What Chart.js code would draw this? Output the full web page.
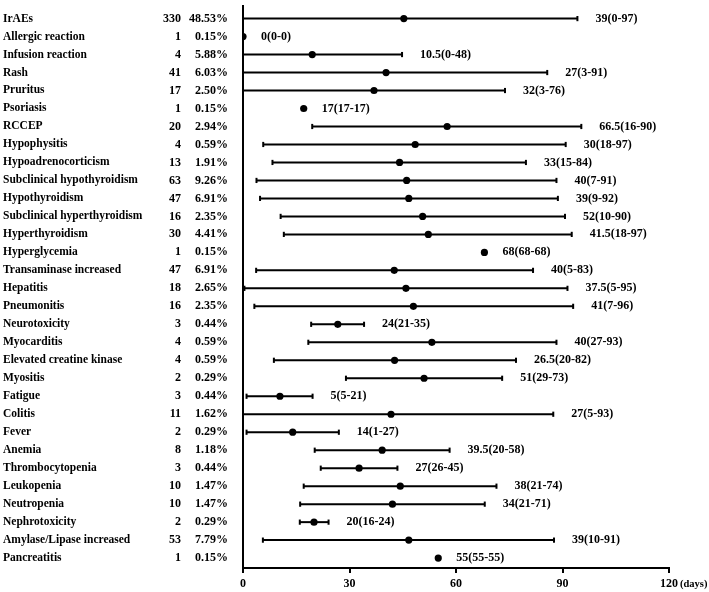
<!DOCTYPE html>
<html>
<head>
<meta charset="utf-8">
<script src="https://cdn.jsdelivr.net/npm/chart.js@4"></script>
<style>
  body { margin: 0; background: #fff; }
  #wrap { width: 709px; height: 592px; }
</style>
</head>
<body>
<div id="wrap"><canvas id="chart" width="709" height="592"></canvas></div>
<script>
// Filas (categorías) y columnas de texto
const names = ['IrAEs', 'Allergic reaction', 'Infusion reaction', 'Rash', 'Pruritus', 'Psoriasis', 'RCCEP',
  'Hypophysitis', 'Hypoadrenocorticism', 'Subclinical hypothyroidism', 'Hypothyroidism',
  'Subclinical hyperthyroidism', 'Hyperthyroidism', 'Hyperglycemia', 'Transaminase increased', 'Hepatitis',
  'Pneumonitis', 'Neurotoxicity', 'Myocarditis', 'Elevated creatine kinase', 'Myositis', 'Fatigue', 'Colitis',
  'Fever', 'Anemia', 'Thrombocytopenia', 'Leukopenia', 'Neutropenia', 'Nephrotoxicity',
  'Amylase/Lipase increased', 'Pancreatitis'];
const counts = [330, 1, 4, 41, 17, 1, 20, 4, 13, 63, 47, 16, 30, 1, 47, 18, 16, 3, 4, 4, 2, 3, 11, 2, 8, 3, 10, 10, 2, 53, 1];
const pcts = ['48.53%', '0.15%', '5.88%', '6.03%', '2.50%', '0.15%', '2.94%', '0.59%', '1.91%', '9.26%', '6.91%',
  '2.35%', '4.41%', '0.15%', '6.91%', '2.65%', '2.35%', '0.44%', '0.59%', '0.59%', '0.29%', '0.44%', '1.62%',
  '0.29%', '1.18%', '0.44%', '1.47%', '1.47%', '0.29%', '7.79%', '0.15%'];

// Valores impresos: mediana(mín-máx)
const medians = [39, 0, 10.5, 27, 32, 17, 66.5, 30, 33, 40, 39, 52, 41.5, 68, 40, 37.5, 41, 24, 40, 26.5, 51, 5, 27, 14, 39.5, 27, 38, 34, 20, 39, 55];
const mins = [0, 0, 0, 3, 3, 17, 16, 18, 15, 7, 9, 10, 18, 68, 5, 5, 7, 21, 27, 20, 29, 5, 5, 1, 20, 26, 21, 21, 16, 10, 55];
const maxs = [97, 0, 48, 91, 76, 17, 90, 97, 84, 91, 92, 90, 97, 68, 83, 95, 96, 35, 93, 82, 73, 21, 93, 27, 58, 45, 74, 71, 24, 91, 55];

// Posiciones dibujadas (días)
const dotDays = [45.3, 0, 19.5, 40.3, 36.9, 17.1, 57.5, 48.5, 44.1, 46.1, 46.7, 50.6, 52.2, 68, 42.6, 45.9, 48, 26.7,
  53.2, 42.7, 51, 10.4, 41.7, 14, 39.2, 32.7, 44.3, 42.1, 20, 46.7, 55];
const loDays = [0, null, 0, 0, 0, null, 19.5, 5.7, 8.3, 3.8, 4.8, 10.6, 11.5, null, 3.7, 0.4, 3.2, 19.2, 18.4, 8.7,
  29, 1, 0, 1, 20.2, 21.9, 17.1, 16.1, 16, 5.6, null];
const hiDays = [94.2, null, 44.8, 85.7, 73.8, null, 95.3, 90.9, 79.7, 88.3, 88.7, 90.7, 92.6, null, 81.7, 91.4, 93,
  34.1, 88.3, 76.9, 73, 19.6, 87.4, 27, 58.2, 43.5, 71.4, 68.1, 24.1, 87.6, null];

const xTicks = [0, 30, 60, 90, 120];

const FONT = 'Liberation Serif, Times New Roman, serif';

// Rangos: un dataset por fila con tope vertical en cada extremo
const rangeSets = [];
names.forEach((n, i) => {
  if (loDays[i] === null) return;
  rangeSets.push({
    type: 'scatter',
    data: [{ x: loDays[i], y: i }, { x: hiDays[i], y: i }],
    showLine: true,
    borderColor: '#000',
    borderWidth: 2,
    pointStyle: 'line',
    rotation: 90,
    pointRadius: 2.6,
    pointBorderWidth: 2,
    pointBorderColor: '#000',
    order: 2
  });
});

const dotSet = {
  type: 'scatter',
  data: dotDays.map((d, i) => ({ x: d, y: i })),
  pointRadius: 3.6,
  pointBackgroundColor: '#000',
  pointBorderColor: '#000',
  pointBorderWidth: 0,
  order: 1
};

// Textos: columnas izquierdas y etiquetas a la derecha
const textPlugin = {
  id: 'texts',
  afterDraw(chart) {
    const { ctx, scales } = chart;
    const xs = scales.x, ys = scales.y;
    ctx.save();
    ctx.fillStyle = '#000';
    ctx.textBaseline = 'middle';
    names.forEach((n, i) => {
      const y = ys.getPixelForValue(i);
      ctx.font = 'bold 11.5px ' + FONT;
      ctx.textAlign = 'left';
      ctx.fillText(n, 3, y);
      ctx.font = 'bold 12px ' + FONT;
      ctx.textAlign = 'right';
      ctx.fillText(String(counts[i]), 181, y);
      ctx.fillText(pcts[i], 228, y);
      const end = hiDays[i] !== null ? hiDays[i] : dotDays[i];
      ctx.textAlign = 'left';
      ctx.fillText(medians[i] + '(' + mins[i] + '-' + maxs[i] + ')', xs.getPixelForValue(end) + 18, y);
    });
    // unidad del eje
    ctx.font = 'bold 10.5px ' + FONT;
    ctx.textAlign = 'left';
    ctx.fillText('(days)', xs.getPixelForValue(120) + 11, 584);
    ctx.restore();
  }
};

new Chart(document.getElementById('chart').getContext('2d'), {
  data: { datasets: [...rangeSets, dotSet] },
  options: {
    responsive: false,
    animation: false,
    layout: { padding: { left: 0, right: 40, top: 0, bottom: 0 } },
    plugins: { legend: { display: false }, tooltip: { enabled: false } },
    scales: {
      x: {
        type: 'linear',
        min: 0,
        max: 120,
        afterBuildTicks: (s) => { s.ticks = xTicks.map(v => ({ value: v })); },
        afterFit: (s) => { s.height = 24; },
        border: { color: '#000', width: 2 },
        grid: { drawOnChartArea: false, drawTicks: true, tickLength: 5, color: '#000', lineWidth: 2 },
        ticks: { color: '#000', padding: 4, maxRotation: 0, font: { family: FONT, size: 12, weight: 'bold' } }
      },
      y: {
        type: 'linear',
        reverse: true,
        min: -0.7,
        max: 30.55,
        afterFit: (s) => { s.width = 243; },
        border: { color: '#000', width: 2 },
        grid: { display: false },
        ticks: { display: false }
      }
    }
  },
  plugins: [textPlugin]
});
</script>
</body>
</html>
